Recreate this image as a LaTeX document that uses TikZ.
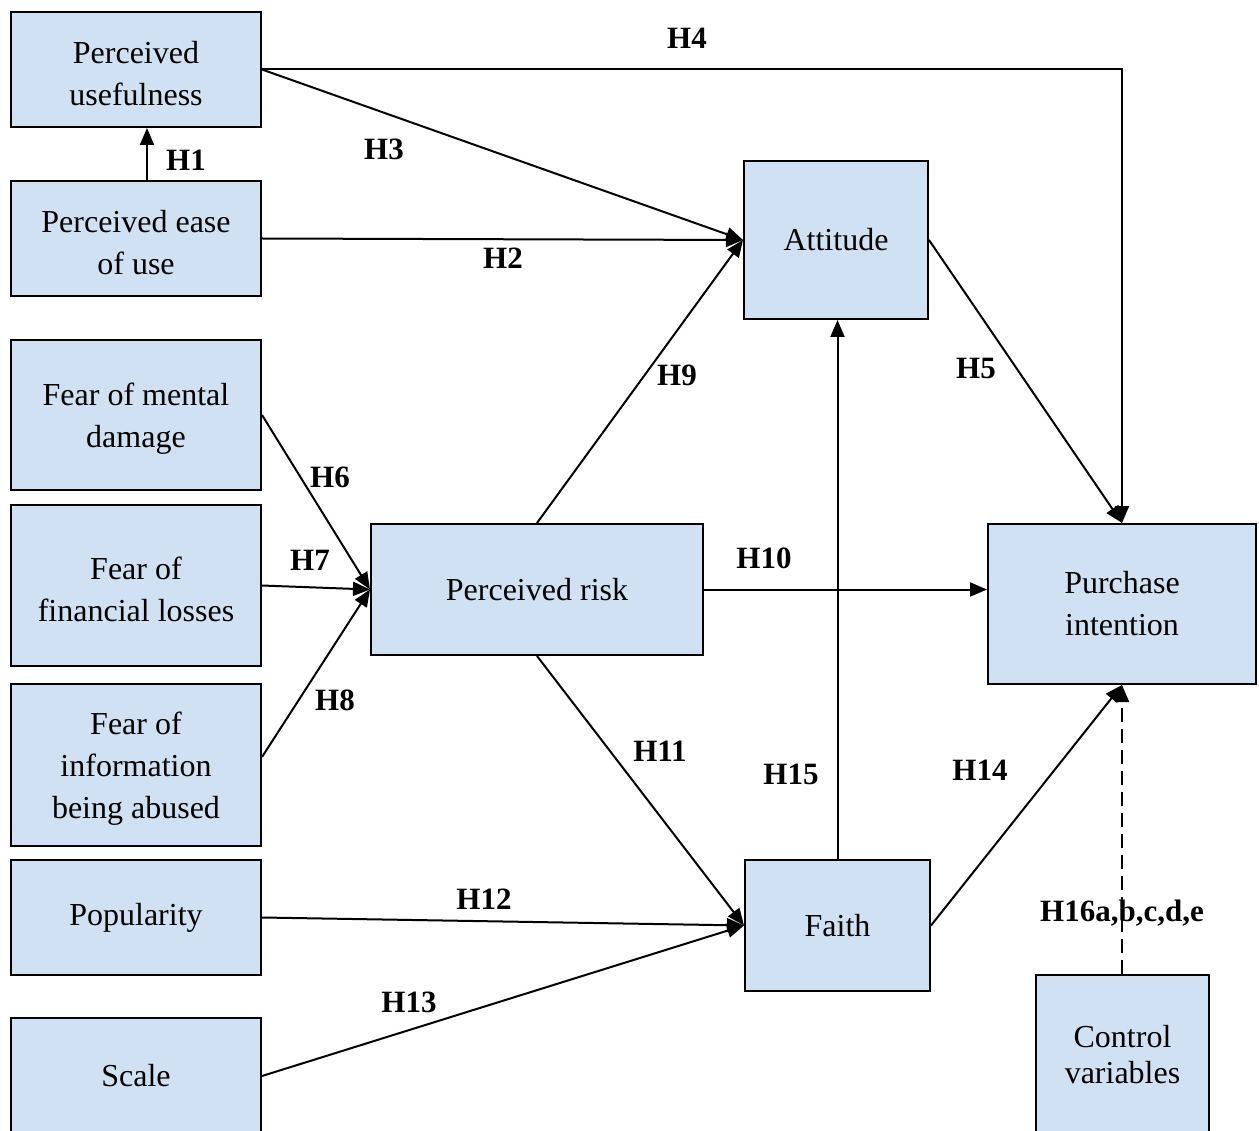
\documentclass[tikz,border=0pt]{standalone}
\usepackage{fontspec}
\setmainfont{Liberation Serif}
\usetikzlibrary{arrows.meta,calc}
\definecolor{boxfill}{RGB}{207,225,242}
\tikzset{
  box/.style={draw=black, fill=boxfill, line width=2pt, inner sep=0pt,
    align=center, font=\fontsize{32}{42}\selectfont},
  hyp/.style={font=\fontsize{31}{34}\selectfont\bfseries, inner sep=0pt},
  link/.style={line width=2pt, -{Triangle[length=17pt,width=14pt]}},
  ctrl/.style={link, dash pattern=on 14pt off 7pt}
}
\begin{document}
\begin{tikzpicture}[x=1pt,y=-1pt]
\useasboundingbox (0,0) rectangle (1259,1131);
\clip (0,0) rectangle (1259,1131);
\fill[white] (0,0) rectangle (1259,1131);

% constructs
\node[box, minimum width=250pt, minimum height=115pt] (pu)   at (136,69.5)  {\strut Perceived\\usefulness};
\node[box, minimum width=250pt, minimum height=115pt] (peou) at (136,238.5) {\strut Perceived ease\\of use};
\node[box, minimum width=250pt, minimum height=150pt] (fmd)  at (136,415)   {\strut Fear of mental\\damage};
\node[box, minimum width=250pt, minimum height=161pt] (ffl)  at (136,585.5) {\strut Fear of\\financial losses};
\node[box, minimum width=250pt, minimum height=162pt] (fia)  at (136,765)   {\strut Fear of\\information\\being abused};
\node[box, minimum width=250pt, minimum height=115pt] (pop)  at (136,917.5) {Popularity};
\node[box, minimum width=250pt, minimum height=116pt] (scl)  at (136,1076)  {Scale};
\node[box, minimum width=184pt, minimum height=158pt] (att)  at (836,240)   {Attitude};
\node[box, minimum width=332pt, minimum height=131pt] (pr)   at (537,589.5) {Perceived risk};
\node[box, minimum width=268pt, minimum height=160pt] (pi)   at (1122,604)  {Purchase\\intention};
\node[box, minimum width=185pt, minimum height=131pt] (fth)  at (837.5,925.5) {Faith};
\node[box, minimum width=173pt, minimum height=160pt,
      font=\fontsize{32}{36}\selectfont] (cv) at (1122.5,1055) {Control\\variables};

% paths
\draw[link] (peou.north -| 147,0) -- (pu.south -| 147,0);
\draw[link] (pu.east) -| (pi.north);
\draw[link] (pu.east) -- (att.west);
\draw[link] (peou.east) -- (att.west);
\draw[link] (pr.north) -- (att.west);
\draw[link] (att.east) -- (pi.north);
\draw[link] (fmd.east) -- (pr.west);
\draw[link] (ffl.east) -- (pr.west);
\draw[link] ($(fia.east)+(0,-8)$) -- (pr.west);
\draw[link] (pr.east) -- (pr.east -| pi.west);
\draw[link] (pr.south) -- (fth.west);
\draw[link] (pop.east) -- (fth.west);
\draw[link] (scl.east) -- (fth.west);
\draw[link] (fth.north) -- (att.south -| fth.north);
\draw[link] (fth.east) -- (pi.south);
\draw[ctrl] (cv.north -| pi.south) -- (pi.south);

% hypothesis labels
\node[hyp] (h1)  at (186,160)  {H1};
\node[hyp] (h2)  at (503,258)  {H2};
\node[hyp] (h3)  at (384,149)  {H3};
\node[hyp] (h4)  at (687,38)   {H4};
\node[hyp] (h5)  at (976,369)  {H5};
\node[hyp] (h6)  at (330,477)  {H6};
\node[hyp] (h7)  at (310,560)  {H7};
\node[hyp] (h8)  at (335,700)  {H8};
\node[hyp] (h9)  at (677,375)  {H9};
\node[hyp] (h10) at (764,558)  {H10};
\node[hyp] (h11) at (660,751)  {H11};
\node[hyp] (h12) at (484,899)  {H12};
\node[hyp] (h13) at (409,1002) {H13};
\node[hyp] (h14) at (980,770)  {H14};
\node[hyp] (h15) at (791,774)  {H15};
\node[hyp] (h16) at (1122,913) {H16a,b,c,d,e};
\end{tikzpicture}
\end{document}
